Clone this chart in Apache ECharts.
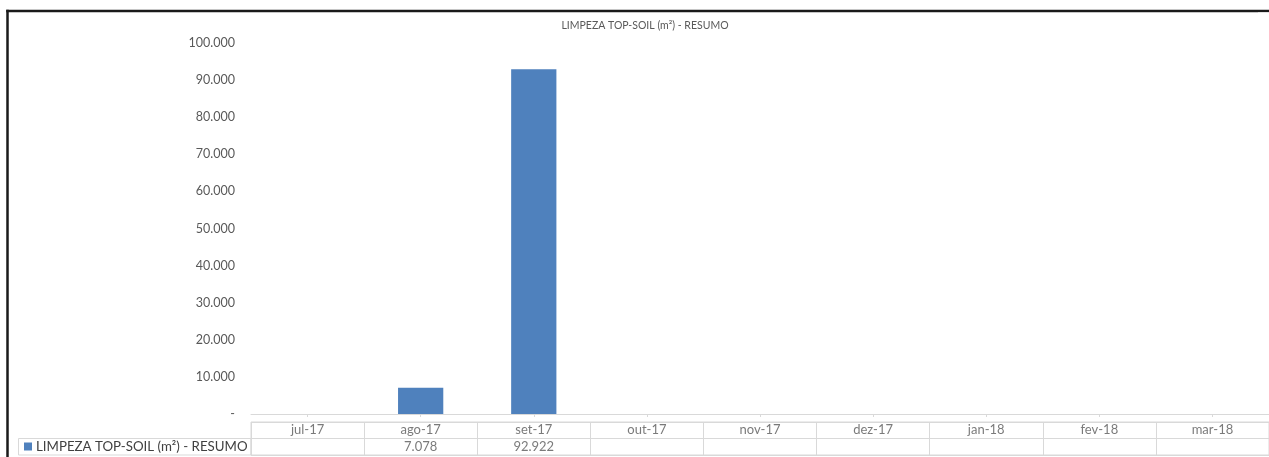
<!DOCTYPE html>
<html>
<head>
<meta charset="utf-8">
<script src="https://cdn.jsdelivr.net/npm/echarts@6/dist/echarts.min.js"></script>
<style>
html,body{margin:0;padding:0;background:#fff;overflow:hidden;}
#chart{width:1269px;height:457px;}
</style>
</head>
<body>
<div id="chart"></div>
<script>
const titleText = 'LIMPEZA TOP-SOIL (m²) - RESUMO';
const seriesName = 'LIMPEZA TOP-SOIL (m²) - RESUMO';
const categories = ['jul-17','ago-17','set-17','out-17','nov-17','dez-17','jan-18','fev-18','mar-18'];
const values = [null, 7078, 92922, null, null, null, null, null, null];
const yTicks = [0, 10000, 20000, 30000, 40000, 50000, 60000, 70000, 80000, 90000, 100000];

const FONT = 'Lato, "Open Sans", sans-serif';
const LINE = '#d9d9d9';
const TXT = '#595959';

function fmt(v){
  if (v === 0) return '-';
  return String(Math.round(v)).replace(/\B(?=(\d{3})+(?!\d))/g, '.');
}

const monthCells = categories.map((c, i) => ({ value: [i, 'm'], name: c }));
const valueCells = values.map((v, i) => ({ value: [i, 'v'], name: v == null ? '' : fmt(v) }));

const chart = echarts.init(document.getElementById('chart'), null, { renderer: 'canvas', width: 1269, height: 457 });
chart.setOption({
  animation: false,
  backgroundColor: '#fff',
  title: {
    text: titleText,
    left: 645, top: 20, textAlign: 'center', padding: 0,
    textStyle: { fontFamily: FONT, fontSize: 10.5, fontWeight: 'normal', color: TXT }
  },
  legend: {
    data: [seriesName],
    left: 24, top: 440, padding: 0,
    icon: 'rect', itemWidth: 8, itemHeight: 8, itemGap: 4,
    textStyle: { fontFamily: FONT, fontSize: 13.3, color: '#404040', padding: [0,0,0,-1] }
  },
  grid: [
    { left: 251, width: 1020, top: 43, bottom: 43 },
    { left: 251, width: 1020, top: 422, height: 33, show: true, borderColor: LINE, borderWidth: 1, backgroundColor: 'transparent' }
  ],
  xAxis: [
    {
      type: 'category', gridIndex: 0, data: categories,
      axisLine: { lineStyle: { color: LINE } },
      axisTick: { show: true, alignWithLabel: true, length: 3, lineStyle: { color: LINE } },
      axisLabel: { show: false },
      splitLine: { show: false }
    },
    {
      type: 'category', gridIndex: 1, data: categories,
      axisLine: { show: false }, axisTick: { show: false },
      axisLabel: { show: false, interval: 0 },
      splitLine: { show: true, interval: 0, lineStyle: { color: LINE } }
    }
  ],
  yAxis: [
    {
      type: 'value', gridIndex: 0, min: 0, max: 100000, interval: 10000,
      axisLine: { show: false }, axisTick: { show: false },
      splitLine: { show: false },
      axisLabel: { formatter: fmt, color: TXT, fontFamily: FONT, fontSize: 12.5, margin: 16 }
    },
    {
      type: 'category', gridIndex: 1, data: ['v', 'm'],
      axisLine: { show: false }, axisTick: { show: false },
      axisLabel: { show: false },
      splitLine: { show: true, interval: 0, lineStyle: { color: LINE } }
    }
  ],
  series: [
    {
      name: seriesName, type: 'bar', xAxisIndex: 0, yAxisIndex: 0,
      data: values, barWidth: '40%',
      itemStyle: { color: '#4f81bd' }
    },
    {
      type: 'scatter', xAxisIndex: 1, yAxisIndex: 1, symbolSize: 0,
      data: monthCells, silent: true,
      label: { show: true, position: 'inside', formatter: p => p.name,
        fontFamily: FONT, fontSize: 13, color: TXT }
    },
    {
      type: 'scatter', xAxisIndex: 1, yAxisIndex: 1, symbolSize: 0,
      data: valueCells, silent: true,
      label: { show: true, position: 'inside', formatter: p => p.name,
        fontFamily: FONT, fontSize: 13, color: TXT }
    }
  ],
  graphic: [
    { type: 'rect', shape: { x: 1258, y: 12.5, width: 11, height: 400 },
      style: { fill: '#ffffff' }, z: 100 },
    { type: 'rect', shape: { x: 18.5, y: 438.5, width: 232.5, height: 16.5 },
      style: { fill: 'none', stroke: LINE, lineWidth: 1 }, z: -1 },
    { type: 'line', shape: { x1: 7.5, y1: 457, x2: 7.5, y2: 9.75 },
      style: { stroke: '#1a1a1a', lineWidth: 2.5 } },
    { type: 'line', shape: { x1: 6.25, y1: 11, x2: 1275, y2: 11 },
      style: { stroke: '#1a1a1a', lineWidth: 2.5 } }
  ]
});
</script>
</body>
</html>
